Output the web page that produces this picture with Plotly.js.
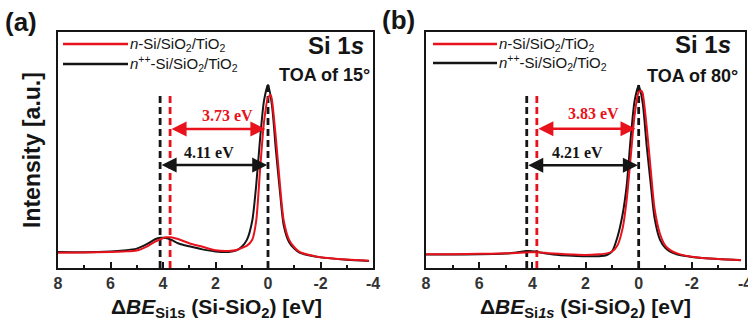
<!DOCTYPE html>
<html>
<head>
<meta charset="utf-8">
<script src="https://cdn.plot.ly/plotly-3.0.1.min.js"></script>
<style>html,body{margin:0;padding:0;background:#fff;}#chart{width:748px;height:322px;}</style>
</head>
<body>
<div id="chart"></div>
<script>
// ---------- data ----------
// Panel (a): TOA 15°
const xA_red   = [8, 7, 6, 5.5, 5, 4.6, 4.3, 4.1, 3.9, 3.7, 3.4, 3.0, 2.5, 2.0, 1.5, 1.2, 1.0, 0.8, 0.6, 0.45, 0.3, 0.15, 0, -0.1, -0.15, -0.3, -0.45, -0.6, -0.8, -1.0, -1.2, -1.5, -2.0, -3.0, -3.85];
const yA_red   = [0.065, 0.066, 0.068, 0.070, 0.074, 0.092, 0.112, 0.122, 0.130, 0.130, 0.122, 0.105, 0.090, 0.075, 0.072, 0.076, 0.085, 0.095, 0.120, 0.200, 0.420, 0.620, 0.722, 0.733, 0.712, 0.550, 0.360, 0.200, 0.120, 0.088, 0.068, 0.057, 0.046, 0.036, 0.031];
const xA_black = [8, 7, 6, 5.5, 5, 4.6, 4.3, 4.1, 3.9, 3.7, 3.4, 3.0, 2.5, 2.0, 1.5, 1.2, 1.0, 0.8, 0.6, 0.45, 0.3, 0.15, 0, -0.15, -0.3, -0.45, -0.6, -0.8, -1.0, -1.2, -1.5, -2.0, -3.0, -3.85];
const yA_black = [0.068, 0.067, 0.070, 0.074, 0.082, 0.102, 0.122, 0.128, 0.127, 0.120, 0.104, 0.092, 0.079, 0.070, 0.068, 0.075, 0.090, 0.120, 0.200, 0.350, 0.550, 0.710, 0.775, 0.690, 0.500, 0.330, 0.180, 0.110, 0.082, 0.065, 0.055, 0.045, 0.035, 0.030];

// Panel (b): TOA 80°
const xB_red   = [8, 7, 6, 5, 4.6, 4.3, 4.1, 3.9, 3.7, 3.4, 3.0, 2.5, 2.0, 1.5, 1.2, 1.0, 0.8, 0.6, 0.45, 0.3, 0.15, 0, -0.1, -0.15, -0.3, -0.45, -0.6, -0.8, -1.0, -1.2, -1.5, -2.0, -3.0, -3.85];
const yB_red   = [0.058, 0.058, 0.060, 0.062, 0.064, 0.066, 0.067, 0.067, 0.066, 0.063, 0.060, 0.057, 0.055, 0.058, 0.062, 0.070, 0.095, 0.170, 0.290, 0.470, 0.650, 0.745, 0.751, 0.740, 0.600, 0.420, 0.250, 0.145, 0.095, 0.075, 0.060, 0.048, 0.038, 0.034];
const xB_black = [8, 7, 6, 5, 4.6, 4.3, 4.1, 3.9, 3.7, 3.4, 3.0, 2.5, 2.0, 1.5, 1.2, 1.0, 0.8, 0.6, 0.45, 0.3, 0.15, 0, -0.15, -0.3, -0.45, -0.6, -0.8, -1.0, -1.2, -1.5, -2.0, -3.0, -3.85];
const yB_black = [0.057, 0.057, 0.058, 0.061, 0.066, 0.071, 0.072, 0.070, 0.066, 0.060, 0.055, 0.052, 0.050, 0.050, 0.055, 0.070, 0.130, 0.230, 0.350, 0.550, 0.710, 0.772, 0.700, 0.520, 0.360, 0.210, 0.120, 0.085, 0.068, 0.056, 0.047, 0.038, 0.033];

// Peak markers (dashed lines) and separations
const peaksA = {red: 3.73, black: 4.11, zero: 0};
const peaksB = {red: 3.83, black: 4.21, zero: 0};
const labelsA = ['3.73 eV', '4.11 eV'];
const labelsB = ['3.83 eV', '4.21 eV'];
const seriesNames = ['<i>n</i>-Si/SiO<sub>2</sub>/TiO<sub>2</sub>', '<i>n</i><sup>++</sup>-Si/SiO<sub>2</sub>/TiO<sub>2</sub>'];
const toaLabels = ['TOA of 15°', 'TOA of 80°'];
const xTitles = ['Δ<i>BE</i><sub>Si1s</sub> (Si-SiO<sub>2</sub>) [eV]', 'Δ<i>BE</i><sub>Si<i>1s</i></sub> (Si-SiO<sub>2</sub>) [eV]'];
const yTitle = 'Intensity [a.u.]';
const xTicks = [8, 6, 4, 2, 0, -2, -4];
const xMinor = [7, 5, 3, 1, -1, -3];

// ---------- styling ----------
const RED = '#e8121c', BLACK = '#151515';
const W = 748, H = 322;
const PX = x => x / W, PY = y => 1 - y / H;
const SANS = 'Liberation Sans, Arial, sans-serif';
const SERIF = 'Liberation Serif, Times New Roman, serif';

function curve(x, y, color, xa, ya) {
  return {x, y, xaxis: xa, yaxis: ya, type: 'scatter', mode: 'lines',
    line: {color, width: 2, shape: 'spline', smoothing: 0.7}, hoverinfo: 'skip', showlegend: false};
}
function vdash(x0, ytop, color, xa, ya) {
  return {x: [x0, x0], y: [0, ytop], xaxis: xa, yaxis: ya, type: 'scatter', mode: 'lines',
    line: {color, width: 2.8, dash: '7px,4px'}, hoverinfo: 'skip', showlegend: false};
}

const traces = [
  vdash(peaksA.black, 0.74, BLACK, 'x', 'y'),
  vdash(peaksA.red, 0.74, RED, 'x', 'y'),
  vdash(peaksA.zero, 0.78, BLACK, 'x', 'y'),
  curve(xA_black, yA_black, BLACK, 'x', 'y'),
  curve(xA_red, yA_red, RED, 'x', 'y'),
  vdash(peaksB.black, 0.743, BLACK, 'x2', 'y2'),
  vdash(peaksB.red, 0.743, RED, 'x2', 'y2'),
  vdash(peaksB.zero, 0.78, BLACK, 'x2', 'y2'),
  curve(xB_black, yB_black, BLACK, 'x2', 'y2'),
  curve(xB_red, yB_red, RED, 'x2', 'y2')
];

function arrow(xa, ya, x0, x1, y, color) {
  return {xref: xa, yref: ya, axref: xa, ayref: ya, x: x1, y: y, ax: x0, ay: y, text: '',
    showarrow: true, arrowhead: 2, startarrowhead: 2, arrowside: 'end+start', arrowsize: 1.2, startarrowsize: 1.2,
    arrowwidth: 2.5, arrowcolor: color, standoff: 0, startstandoff: 0};
}
function label(xa, ya, x, y, text, color) {
  return {xref: xa, yref: ya, x, y, text: '<b>' + text + '</b>', showarrow: false,
    font: {family: SERIF, size: 16, color}};
}
function ptext(x, y, text, size, opts) {
  return Object.assign({xref: 'paper', yref: 'paper', x: PX(x), y: PY(y), text, showarrow: false,
    font: {family: SANS, size, color: BLACK}, xanchor: 'left', yanchor: 'middle'}, opts || {});
}
const boldFont = (size) => ({family: SANS, size, color: BLACK, weight: 'bold'});

const annotations = [
  arrow('x', 'y', peaksA.red, 0.1, 0.589, RED),
  arrow('x', 'y', peaksA.black, 0.03, 0.436, BLACK),
  label('x', 'y', 1.55, 0.648, labelsA[0], RED),
  label('x', 'y', 2.25, 0.49, labelsA[1], BLACK),
  arrow('x2', 'y2', peaksB.red, 0.12, 0.59, RED),
  arrow('x2', 'y2', peaksB.black, 0.03, 0.435, BLACK),
  label('x2', 'y2', 1.7, 0.654, labelsB[0], RED),
  label('x2', 'y2', 2.3, 0.49, labelsB[1], BLACK),
  // panel letters
  ptext(3, 22, '<b>(a)</b>', 26),
  ptext(380, 20, '<b>(b)</b>', 26),
  // legends
  ptext(128, 44, seriesNames[0], 15),
  ptext(128, 64, seriesNames[1], 15),
  ptext(497, 44, seriesNames[0], 15),
  ptext(497, 63, seriesNames[1], 15),
  // Si 1s / TOA
  ptext(366, 46, '<b>Si 1<i>s</i></b>', 24, {xanchor: 'right'}),
  ptext(372, 75, '<b>' + toaLabels[0] + '</b>', 18, {xanchor: 'right'}),
  ptext(733, 45, '<b>Si 1<i>s</i></b>', 24, {xanchor: 'right'}),
  ptext(740, 76, '<b>' + toaLabels[1] + '</b>', 18, {xanchor: 'right'}),
  // axis titles
  ptext(216, 308, xTitles[0], 21, {xanchor: 'center', font: boldFont(21)}),
  ptext(585, 308, xTitles[1], 21, {xanchor: 'center', font: boldFont(21)}),
  ptext(32, 150, yTitle, 23, {xanchor: 'center', textangle: -90, font: boldFont(23)})
];

function lseg(x0, x1, y, color) {
  return {type: 'line', xref: 'paper', yref: 'paper', x0: PX(x0), x1: PX(x1), y0: PY(y), y1: PY(y),
    line: {color, width: 2.5}};
}
const shapes = [
  lseg(63, 128, 44, RED), lseg(63, 128, 64, BLACK),
  lseg(433, 497, 44, RED), lseg(433, 497, 63, BLACK)
];

const xbase = {
  range: [8, -4], tickvals: xTicks, ticktext: xTicks.map(String), ticks: 'inside', ticklen: 6, tickwidth: 2,
  tickcolor: BLACK, showline: true, linewidth: 2, linecolor: BLACK, mirror: true, showgrid: false, zeroline: false,
  minor: {tickvals: xMinor, ticks: 'inside', ticklen: 3, tickwidth: 2, tickcolor: BLACK, showgrid: false},
  tickfont: {family: SANS, size: 16, weight: 'bold', color: '#333'}, ticklabeloverflow: 'allow',
  fixedrange: true
};
const ybase = {
  range: [0, 1], showticklabels: false, ticks: '', showline: true, linewidth: 2, linecolor: BLACK, mirror: true,
  showgrid: false, zeroline: false, domain: [(H - 268) / H, (H - 32) / H], fixedrange: true
};

const layout = {
  width: W, height: H, margin: {l: 0, r: 0, t: 0, b: 0}, paper_bgcolor: '#fff', plot_bgcolor: '#fff',
  showlegend: false,
  xaxis: Object.assign({}, xbase, {domain: [58 / W, 373 / W], anchor: 'y'}),
  yaxis: Object.assign({}, ybase, {anchor: 'x'}),
  xaxis2: Object.assign({}, xbase, {domain: [426 / W, 745 / W], anchor: 'y2'}),
  yaxis2: Object.assign({}, ybase, {anchor: 'x2'}),
  annotations, shapes
};

Plotly.newPlot('chart', traces, layout, {displayModeBar: false, staticPlot: true});
</script>
</body>
</html>
